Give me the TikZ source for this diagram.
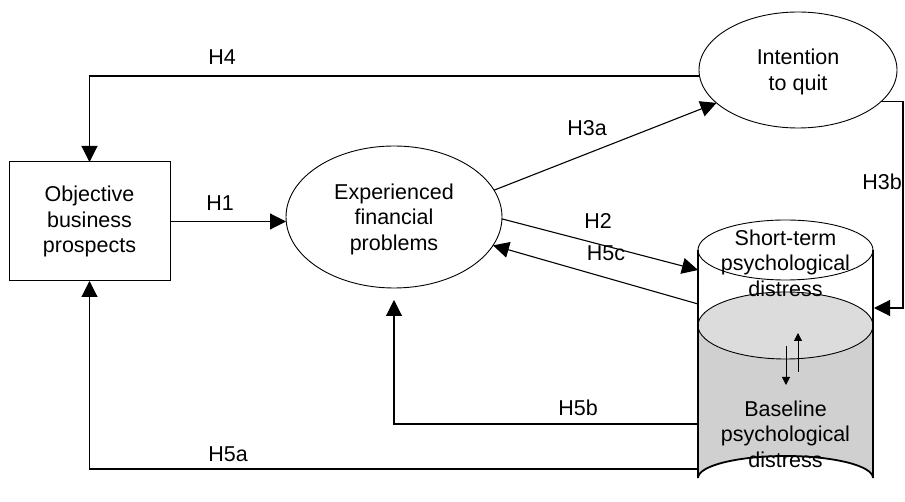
\documentclass[tikz,border=0pt]{standalone}
\usepackage{fontspec}
\setmainfont{Liberation Sans}
\usetikzlibrary{arrows.meta,shapes.geometric}
\definecolor{bodygrey}{HTML}{D0D0D0}
\definecolor{surfgrey}{HTML}{DCDCDC}
\begin{document}
\begin{tikzpicture}[x=1pt,y=-1pt,
  every node/.style={font=\fontsize{21.5}{25.5}\selectfont, inner sep=0pt, outer sep=0pt},
  ell/.style={draw, ellipse, line width=0.9pt, align=center},
  boxnode/.style={draw, rectangle, line width=1pt, align=center},
  conn/.style={line width=1.1pt, -{Triangle[length=16pt,width=16pt]}},
  smallarr/.style={line width=1pt, -{Triangle[length=8pt,width=8pt]}},
  cylline/.style={line width=1.8pt},
  lab/.style={}]
\useasboundingbox (0,0) rectangle (905,502);

% nodes
\node[boxnode, minimum width=161pt, minimum height=119pt] (box) at (89.5,221.5) {Objective\\business\\prospects};
\node[ell, minimum width=216pt, minimum height=142pt] (exp) at (394,217) {};
\node[align=center] (expt) at (394,219) {Experienced\\financial\\problems};
\node[ell, minimum width=198pt, minimum height=116pt] (int) at (798,70) {};
\node[align=center] (intt) at (798,72) {Intention\\to quit};

% cylinder
\fill[bodygrey] (698,325.5) -- (698,478) arc[start angle=180, end angle=360, x radius=87.5, y radius=22] -- (873,325.5) -- cycle;
\draw[line width=0.9pt, fill=surfgrey] (785.5,325.5) ellipse[x radius=87.5, y radius=33.5];
\draw[line width=0.9pt] (785.5,250) ellipse[x radius=87.5, y radius=30];
\draw[cylline] (698,250) -- (698,478) arc[start angle=180, end angle=360, x radius=87.5, y radius=22] -- (873,250);
\node[align=center] (st) at (785.5,263) {Short-term\\psychological\\distress};
\node[align=center] (bl) at (785.5,434) {Baseline\\psychological\\distress};
\coordinate (uA) at (798,372); \coordinate (uB) at (798,333);
\coordinate (dA) at (786,346); \coordinate (dB) at (786,385);
\draw[smallarr] (uA) -- (uB);
\draw[smallarr] (dA) -- (dB);

% connection points on cylinder
\coordinate (cH2) at (698,270);
\coordinate (cH5c) at (698,304);
\coordinate (cH5b) at (698,424);
\coordinate (cH5a) at (698,469);
\coordinate (cH3b) at (874,308);
\coordinate (h3bcorner) at (903,308);
\coordinate (h5bend) at (394,300);

% connectors
\draw[conn] ([yshift=-6pt]int.west) -| (box.north);
\draw[conn] (box.east) -- (box.east -| exp.west);
\draw[conn] (exp.15.5) -- (int.202);
\draw[conn] (exp.-1) -- (cH2);
\draw[conn] (cH5c) -- (exp.-16.5);
\draw[conn] (int.-21) -| (h3bcorner) -- (cH3b);
\draw[conn] (cH5b) -| (h5bend);
\draw[conn] (cH5a) -| (box.south);

% labels
\node[lab] (lH4) at (222,57) {H4};
\node[lab] (lH1) at (220,203) {H1};
\node[lab] (lH3a) at (587,128) {H3a};
\node[lab] (lH2) at (598,221) {H2};
\node[lab] (lH5c) at (606,253) {H5c};
\node[lab] (lH3b) at (882,182) {H3b};
\node[lab] (lH5b) at (578,408) {H5b};
\node[lab] (lH5a) at (228,454) {H5a};
\end{tikzpicture}
\end{document}
